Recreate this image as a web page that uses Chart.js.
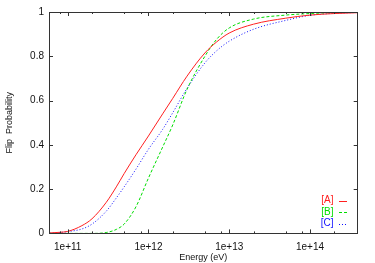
<!DOCTYPE html>
<html>
<head>
<meta charset="utf-8">
<script src="https://cdn.jsdelivr.net/npm/chart.js@4"></script>
<style>
  html, body { margin: 0; padding: 0; background: #fff; }
  #myChart { display: block; }
</style>
</head>
<body>
<canvas id="myChart" width="375" height="263"></canvas>
<script>
// values (energy in eV, flip probability)
const energies = [6e10, 8e10, 1e11, 1.5e11, 2e11, 3e11, 4e11, 5e11, 7e11, 1e12, 1.5e12, 2e12, 3e12, 5e12, 7e12, 1e13, 2e13, 5e13, 1e14, 2e14, 4e14];
const probA = [0.002, 0.005, 0.009, 0.035, 0.066, 0.14, 0.21, 0.27, 0.355, 0.44, 0.54, 0.61, 0.71, 0.815, 0.865, 0.905, 0.945, 0.972, 0.986, 0.993, 0.997];
const probB = [0, 0, 0, 0, 0, 0.004, 0.018, 0.042, 0.12, 0.25, 0.39, 0.49, 0.65, 0.8, 0.877, 0.928, 0.968, 0.986, 0.993, 0.997, 0.999];
const probC = [0.001, 0.004, 0.008, 0.02, 0.042, 0.1, 0.16, 0.21, 0.29, 0.38, 0.47, 0.545, 0.655, 0.77, 0.825, 0.868, 0.922, 0.962, 0.985, 0.994, 0.998];

const seriesNames = ["[A]", "[B]", "[C]"];
const xTickValues = [1e11, 1e12, 1e13, 1e14];
const yTickValues = [0, 0.2, 0.4, 0.6, 0.8, 1];

const toPoints = (ys) => energies.map((e, i) => ({ x: e, y: ys[i] }));

// gnuplot-ish frame, inward ticks and the little key in the corner
const framePlugin = {
  id: "frame",
  afterDatasetsDraw(chart) {
    const ctx = chart.ctx;
    const area = chart.chartArea;
    const xs = chart.scales.x;
    const ys = chart.scales.y;
    ctx.save();
    ctx.strokeStyle = "#333";
    ctx.lineWidth = 1;
    ctx.setLineDash([]);
    ctx.strokeRect(Math.round(area.left) + 0.5, Math.round(area.top) + 0.5,
      Math.round(area.right - area.left) - 1, Math.round(area.bottom - area.top));

    ctx.beginPath();
    for (let k = 10; k <= 14; k++) {
      [1, 2, 5, 8].forEach((m) => {
        const v = m * Math.pow(10, k);
        if (v < xs.min || v > xs.max) return;
        const px = Math.round(xs.getPixelForValue(v)) + 0.5;
        const len = m === 1 ? 4 : 2;
        ctx.moveTo(px, area.bottom);
        ctx.lineTo(px, area.bottom - len);
        ctx.moveTo(px, area.top);
        ctx.lineTo(px, area.top + len);
      });
    }
    yTickValues.forEach((v) => {
      const py = Math.round(ys.getPixelForValue(v)) + 0.5;
      ctx.moveTo(area.left, py);
      ctx.lineTo(area.left + 4, py);
      ctx.moveTo(area.right, py);
      ctx.lineTo(area.right - 4, py);
    });
    ctx.stroke();

    // key
    const rows = [200.5, 212, 223.5];
    ctx.font = "10px 'Liberation Sans', Arial, sans-serif";
    ctx.textAlign = "right";
    ctx.textBaseline = "middle";
    chart.data.datasets.forEach((ds, i) => {
      ctx.fillStyle = ds.borderColor;
      ctx.fillText(ds.label, 333.5, rows[i]);
      ctx.strokeStyle = ds.borderColor;
      ctx.setLineDash(ds.borderDash || []);
      ctx.beginPath();
      ctx.moveTo(339, Math.round(rows[i]) + 0.5);
      ctx.lineTo(347, Math.round(rows[i]) + 0.5);
      ctx.stroke();
    });
    ctx.restore();
  },
};

const chartConfig = () => {
  const lineStyle = { borderWidth: 1, pointRadius: 0, fill: false, cubicInterpolationMode: "monotone" };
  return {
    type: "line",
    data: {
      datasets: [
        { label: seriesNames[0], data: toPoints(probA), borderColor: "#ff2020", ...lineStyle },
        { label: seriesNames[1], data: toPoints(probB), borderColor: "#00dd00", borderDash: [3, 2], ...lineStyle },
        { label: seriesNames[2], data: toPoints(probC), borderColor: "#1010ff", borderDash: [1, 2], ...lineStyle },
      ],
    },
    options: {
      responsive: false,
      animation: false,
      devicePixelRatio: 1,
      layout: { padding: { top: 12, right: 17.3, left: 0, bottom: 0 } },
      plugins: { legend: { display: false }, tooltip: { enabled: false } },
      scales: {
        x: {
          type: "logarithmic",
          min: 5.87e10,
          max: 3.9e14,
          grid: { display: false, drawTicks: false },
          border: { display: false },
          afterBuildTicks: (scale) => {
            scale.ticks = xTickValues.map((v) => ({ value: v }));
          },
          afterFit: (scale) => { scale.height = 29.6; },
          ticks: {
            autoSkip: false,
            maxRotation: 0,
            padding: 8,
            color: "#111",
            font: { family: "'Liberation Sans', Arial, sans-serif", size: 10 },
            callback: (v) => "1e+" + Math.round(Math.log10(v)),
          },
          title: {
            display: true,
            text: "Energy (eV)",
            color: "#111",
            padding: 0,
            font: { family: "'Liberation Sans', Arial, sans-serif", size: 9 },
          },
        },
        y: {
          min: 0,
          max: 1,
          grid: { display: false, drawTicks: false },
          border: { display: false },
          afterFit: (scale) => { scale.width = 49; },
          ticks: {
            stepSize: 0.2,
            padding: 5,
            color: "#111",
            font: { family: "'Liberation Sans', Arial, sans-serif", size: 10 },
            callback: (v) => String(Number(v.toFixed(1))),
          },
          title: {
            display: true,
            text: "Flip  Probability",
            color: "#111",
            padding: { top: 4.6, bottom: 0 },
            font: { family: "'Liberation Sans', Arial, sans-serif", size: 9 },
          },
        },
      },
    },
    plugins: [framePlugin],
  };
};

new Chart(document.getElementById("myChart"), chartConfig());
</script>
</body>
</html>
